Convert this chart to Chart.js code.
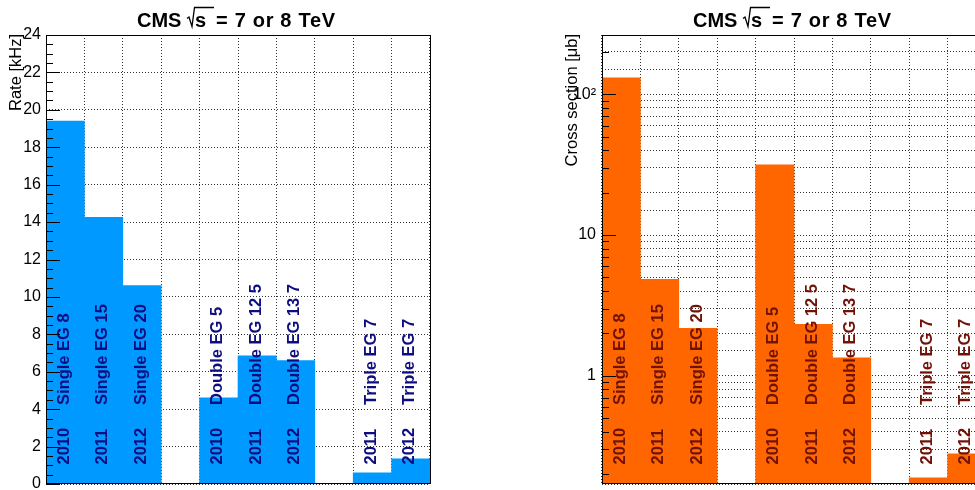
<!DOCTYPE html>
<html>
<head>
<meta charset="utf-8">
<script src="https://cdn.jsdelivr.net/npm/chart.js@4"></script>
<style>
  html, body { margin: 0; padding: 0; background: #fff; width: 975px; height: 490px; overflow: hidden; }
  #wrap { position: relative; width: 975px; height: 490px; overflow: hidden; }
  #rate { position: absolute; left: 0; top: 0; }
  #xsec { position: absolute; left: 490px; top: 0; }
</style>
</head>
<body>
<div id="wrap">
  <canvas id="rate" width="490" height="490"></canvas>
  <canvas id="xsec" width="510" height="490"></canvas>
</div>
<script>
// L1 e/gamma trigger seeds, one bin each (empty strings are spacer bins)
const triggers = ['Single EG 8', 'Single EG 15', 'Single EG 20', '',
                  'Double EG 5', 'Double EG 12 5', 'Double EG 13 7', '',
                  'Triple EG 7', 'Triple EG 7'];
const years = ['2010', '2011', '2012', '', '2010', '2011', '2012', '', '2011', '2012'];

// trigger rate [kHz]
const rates = [19.4, 14.25, 10.6, 0, 4.6, 6.85, 6.6, 0, 0.6, 1.34];
// cross section [micro-barn]
const crossSections = [131, 4.84, 2.17, null, 31.6, 2.32, 1.34, null, 0.188, 0.278];

// axis ranges and labels
const rateRange = [0, 24];
const rateTickLabels = ['0', '2', '4', '6', '8', '10', '12', '14', '16', '18', '20', '22', '24'];
const xsecRange = [0.17, 264];
const xsecTickLabels = [[1, '1'], [10, '10'], [100, '10\u00B2']];

const FONT = '"Liberation Sans", Arial, Helvetica, sans-serif';
const GRID = 'rgba(0,0,0,0.8)';

const binKeys = triggers.map((t, i) => t ? years[i] + ' ' + t : 'bin' + i);

// ROOT-like decorations: frame, inward tick marks, bin captions, titles
const rootStyle = {
  id: 'rootStyle',
  afterDatasetsDraw(chart, args, opts) {
    const { ctx, chartArea: a, scales: { x, y } } = chart;
    ctx.save();

    // captions inside the bins, reading upwards
    ctx.fillStyle = opts.labelColor;
    ctx.font = 'bold 16.5px ' + FONT;
    ctx.textBaseline = 'middle';
    ctx.textAlign = 'left';
    const up = (txt, px, py) => {
      ctx.save();
      ctx.translate(px, py);
      ctx.rotate(-Math.PI / 2);
      ctx.fillText(txt, 0, 0);
      ctx.restore();
    };
    triggers.forEach((t, i) => {
      if (!t) return;
      const cx = x.getPixelForValue(i) - 1;
      up(years[i], cx, a.bottom - 19.5);
      up(t, cx, a.bottom - 79);
    });

    // tick marks on the inside of the vertical axis
    ctx.strokeStyle = '#000';
    ctx.lineWidth = 1;
    ctx.beginPath();
    opts.ticks.forEach(([v, len]) => {
      const py = Math.round(y.getPixelForValue(v)) + 0.5;
      ctx.moveTo(a.left, py);
      ctx.lineTo(a.left + len, py);
    });
    ctx.stroke();

    // frame
    ctx.strokeStyle = '#000';
    ctx.lineWidth = 1;
    ctx.strokeRect(Math.round(a.left) + 0.5, Math.round(a.top) + 0.5,
                   Math.round(a.right - a.left), Math.round(a.bottom - a.top) - 1);

    // title: CMS  sqrt(s) = 7 or 8 TeV
    const cxT = (a.left + a.right) / 2;
    const base = 26.5;
    const x0 = cxT - 101;
    ctx.fillStyle = '#000';
    ctx.textBaseline = 'alphabetic';
    ctx.textAlign = 'left';
    ctx.font = 'bold 20px ' + FONT;
    ctx.fillText('CMS', x0, base);
    const rx = x0 + 50;
    ctx.beginPath();
    ctx.lineWidth = 1.3;
    ctx.moveTo(rx, base - 8);
    ctx.lineTo(rx + 2, base - 9.5);
    ctx.lineTo(rx + 5, base);
    ctx.lineTo(rx + 7.5, base - 19);
    ctx.lineTo(rx + 27, base - 19);
    ctx.stroke();
    ctx.fillText('s', rx + 8, base);
    ctx.letterSpacing = '0.7px';
    ctx.fillText('= 7 or 8 TeV', x0 + 79, base);
    ctx.letterSpacing = '0px';

    // vertical axis title, aligned to the top of the axis
    ctx.font = '16.5px ' + FONT;
    ctx.textAlign = 'right';
    ctx.textBaseline = 'middle';
    ctx.save();
    ctx.translate(a.left - 30, a.top - 1);
    ctx.rotate(-Math.PI / 2);
    ctx.fillText(opts.axisTitle, 0, 0);
    ctx.restore();

    ctx.restore();
  }
};

const zeroPad = s => { s.paddingTop = 0; s.paddingBottom = 0; s.paddingLeft = 0; s.paddingRight = 0; };

function xAxis() {
  return {
    grid: { color: GRID, lineWidth: 1, drawTicks: false, offset: true },
    border: { display: false, dash: [1, 2] },
    ticks: { display: false },
    afterFit: s => { s.height = 0; zeroPad(s); }
  };
}

// rate axis ticks: major every 2, minor every 0.5
const rateMarks = [];
for (let v = rateRange[0]; v <= rateRange[1] + 1e-9; v += 0.5) {
  rateMarks.push([v, Math.abs(v % 2) < 1e-9 ? 14 : 7]);
}
// log axis ticks: 1..9 per decade
const xsecMarks = [];
for (let d = -1; d <= 2; d++) {
  for (let k = 1; k <= 9; k++) {
    const v = k * Math.pow(10, d);
    if (v >= xsecRange[0] && v <= xsecRange[1]) xsecMarks.push([v, k === 1 ? 14 : 7]);
  }
}

new Chart(document.getElementById('rate'), {
  type: 'bar',
  data: {
    labels: binKeys,
    datasets: [{ data: rates, backgroundColor: '#0099ff', borderWidth: 0,
                 barPercentage: 1, categoryPercentage: 1 }]
  },
  options: {
    responsive: false, animation: false, devicePixelRatio: 1,
    layout: { autoPadding: false, padding: { left: 0, right: 60, top: 35, bottom: 6 } },
    plugins: {
      legend: { display: false }, tooltip: { enabled: false },
      rootStyle: { labelColor: '#0d0d80', ticks: rateMarks, axisTitle: 'Rate [kHz]' }
    },
    scales: {
      x: xAxis(),
      y: {
        min: rateRange[0], max: rateRange[1],
        grid: { color: GRID, lineWidth: 1, drawTicks: false },
        border: { display: false, dash: [1, 2] },
        ticks: {
          stepSize: 2, autoSkip: false, padding: 5, color: '#000',
          font: { family: FONT, size: 16 },
          callback: (v, i) => rateTickLabels[i]
        },
        afterFit: s => { s.width = 46; zeroPad(s); }
      }
    }
  },
  plugins: [rootStyle]
});

new Chart(document.getElementById('xsec'), {
  type: 'bar',
  data: {
    labels: binKeys,
    datasets: [{ data: crossSections, backgroundColor: '#ff6600', borderWidth: 0,
                 barPercentage: 1, categoryPercentage: 1 }]
  },
  options: {
    responsive: false, animation: false, devicePixelRatio: 1,
    layout: { autoPadding: false, padding: { left: 66, right: 14, top: 35, bottom: 6 } },
    plugins: {
      legend: { display: false }, tooltip: { enabled: false },
      rootStyle: { labelColor: '#701206', ticks: xsecMarks, axisTitle: 'Cross section [\u03BCb]' }
    },
    scales: {
      x: xAxis(),
      y: {
        type: 'logarithmic',
        min: xsecRange[0], max: xsecRange[1],
        grid: { color: GRID, lineWidth: 1, drawTicks: false },
        border: { display: false, dash: [1, 2] },
        ticks: {
          autoSkip: false, padding: 6, color: '#000',
          font: { family: FONT, size: 16 },
          callback: v => {
            const hit = xsecTickLabels.find(([t]) => Math.abs(v - t) / t < 1e-6);
            return hit ? hit[1] : '';
          }
        },
        afterFit: s => { s.width = 46; zeroPad(s); }
      }
    }
  },
  plugins: [rootStyle]
});
</script>
</body>
</html>
